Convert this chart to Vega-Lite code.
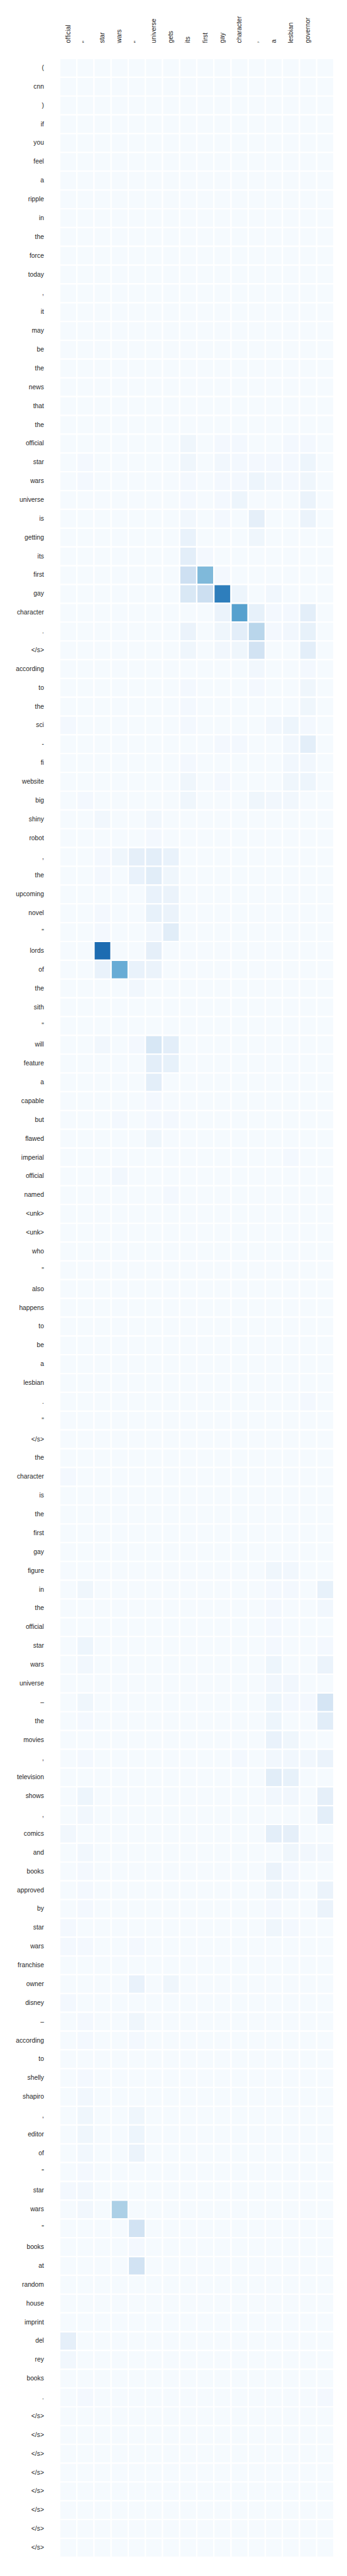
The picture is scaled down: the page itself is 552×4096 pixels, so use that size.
{
"$schema": "https://vega.github.io/schema/vega-lite/v6.json",
"width": 436, "height": 3973,
"autosize": "none",
"padding": {"left": 95, "top": 93, "right": 21, "bottom": 30},
"background": "white",
"config": {"view": {"stroke": null}, "axis": {"domain": false, "ticks": false, "grid": false, "labelFont": "Liberation Sans", "labelFontSize": 10.3, "labelColor": "#262626"}},
"datasets": {
"cols": [{"c":0,"ck":"00official"},{"c":1,"ck":"01\""},{"c":2,"ck":"02star"},{"c":3,"ck":"03wars"},{"c":4,"ck":"04\""},{"c":5,"ck":"05universe"},{"c":6,"ck":"06gets"},{"c":7,"ck":"07its"},{"c":8,"ck":"08first"},{"c":9,"ck":"09gay"},{"c":10,"ck":"10character"},{"c":11,"ck":"11,"},{"c":12,"ck":"12a"},{"c":13,"ck":"13lesbian"},{"c":14,"ck":"14governor"},{"c":15,"ck":"15"}],
"rows": [{"r":0,"k":"000("},{"r":1,"k":"001cnn"},{"r":2,"k":"002)"},{"r":3,"k":"003if"},{"r":4,"k":"004you"},{"r":5,"k":"005feel"},{"r":6,"k":"006a"},{"r":7,"k":"007ripple"},{"r":8,"k":"008in"},{"r":9,"k":"009the"},{"r":10,"k":"010force"},{"r":11,"k":"011today"},{"r":12,"k":"012,"},{"r":13,"k":"013it"},{"r":14,"k":"014may"},{"r":15,"k":"015be"},{"r":16,"k":"016the"},{"r":17,"k":"017news"},{"r":18,"k":"018that"},{"r":19,"k":"019the"},{"r":20,"k":"020official"},{"r":21,"k":"021star"},{"r":22,"k":"022wars"},{"r":23,"k":"023universe"},{"r":24,"k":"024is"},{"r":25,"k":"025getting"},{"r":26,"k":"026its"},{"r":27,"k":"027first"},{"r":28,"k":"028gay"},{"r":29,"k":"029character"},{"r":30,"k":"030."},{"r":31,"k":"031</s>"},{"r":32,"k":"032according"},{"r":33,"k":"033to"},{"r":34,"k":"034the"},{"r":35,"k":"035sci"},{"r":36,"k":"036-"},{"r":37,"k":"037fi"},{"r":38,"k":"038website"},{"r":39,"k":"039big"},{"r":40,"k":"040shiny"},{"r":41,"k":"041robot"},{"r":42,"k":"042,"},{"r":43,"k":"043the"},{"r":44,"k":"044upcoming"},{"r":45,"k":"045novel"},{"r":46,"k":"046\""},{"r":47,"k":"047lords"},{"r":48,"k":"048of"},{"r":49,"k":"049the"},{"r":50,"k":"050sith"},{"r":51,"k":"051\""},{"r":52,"k":"052will"},{"r":53,"k":"053feature"},{"r":54,"k":"054a"},{"r":55,"k":"055capable"},{"r":56,"k":"056but"},{"r":57,"k":"057flawed"},{"r":58,"k":"058imperial"},{"r":59,"k":"059official"},{"r":60,"k":"060named"},{"r":61,"k":"061<unk>"},{"r":62,"k":"062<unk>"},{"r":63,"k":"063who"},{"r":64,"k":"064\""},{"r":65,"k":"065also"},{"r":66,"k":"066happens"},{"r":67,"k":"067to"},{"r":68,"k":"068be"},{"r":69,"k":"069a"},{"r":70,"k":"070lesbian"},{"r":71,"k":"071."},{"r":72,"k":"072\""},{"r":73,"k":"073</s>"},{"r":74,"k":"074the"},{"r":75,"k":"075character"},{"r":76,"k":"076is"},{"r":77,"k":"077the"},{"r":78,"k":"078first"},{"r":79,"k":"079gay"},{"r":80,"k":"080figure"},{"r":81,"k":"081in"},{"r":82,"k":"082the"},{"r":83,"k":"083official"},{"r":84,"k":"084star"},{"r":85,"k":"085wars"},{"r":86,"k":"086universe"},{"r":87,"k":"087–"},{"r":88,"k":"088the"},{"r":89,"k":"089movies"},{"r":90,"k":"090,"},{"r":91,"k":"091television"},{"r":92,"k":"092shows"},{"r":93,"k":"093,"},{"r":94,"k":"094comics"},{"r":95,"k":"095and"},{"r":96,"k":"096books"},{"r":97,"k":"097approved"},{"r":98,"k":"098by"},{"r":99,"k":"099star"},{"r":100,"k":"100wars"},{"r":101,"k":"101franchise"},{"r":102,"k":"102owner"},{"r":103,"k":"103disney"},{"r":104,"k":"104–"},{"r":105,"k":"105according"},{"r":106,"k":"106to"},{"r":107,"k":"107shelly"},{"r":108,"k":"108shapiro"},{"r":109,"k":"109,"},{"r":110,"k":"110editor"},{"r":111,"k":"111of"},{"r":112,"k":"112\""},{"r":113,"k":"113star"},{"r":114,"k":"114wars"},{"r":115,"k":"115\""},{"r":116,"k":"116books"},{"r":117,"k":"117at"},{"r":118,"k":"118random"},{"r":119,"k":"119house"},{"r":120,"k":"120imprint"},{"r":121,"k":"121del"},{"r":122,"k":"122rey"},{"r":123,"k":"123books"},{"r":124,"k":"124."},{"r":125,"k":"125</s>"},{"r":126,"k":"126</s>"},{"r":127,"k":"127</s>"},{"r":128,"k":"128</s>"},{"r":129,"k":"129</s>"},{"r":130,"k":"130</s>"},{"r":131,"k":"131</s>"},{"r":132,"k":"132</s>"}],
"cells": [
{"r":0,"c":0,"v":1},{"r":0,"c":1,"v":1},{"r":0,"c":2,"v":1},{"r":0,"c":3,"v":1},{"r":0,"c":4,"v":1},{"r":0,"c":5,"v":1},{"r":0,"c":6,"v":1},{"r":0,"c":7,"v":1},{"r":0,"c":8,"v":1},{"r":0,"c":9,"v":1},{"r":0,"c":10,"v":1},{"r":0,"c":11,"v":1},{"r":0,"c":12,"v":1},{"r":0,"c":13,"v":1},{"r":0,"c":14,"v":1},{"r":0,"c":15,"v":1},
{"r":1,"c":0,"v":1},{"r":1,"c":1,"v":1},{"r":1,"c":2,"v":1},{"r":1,"c":3,"v":1},{"r":1,"c":4,"v":1},{"r":1,"c":5,"v":1},{"r":1,"c":6,"v":1},{"r":1,"c":7,"v":1},{"r":1,"c":8,"v":1},{"r":1,"c":9,"v":1},{"r":1,"c":10,"v":1},{"r":1,"c":11,"v":1},{"r":1,"c":12,"v":1},{"r":1,"c":13,"v":1},{"r":1,"c":14,"v":1},{"r":1,"c":15,"v":1},
{"r":2,"c":0,"v":1},{"r":2,"c":1,"v":1},{"r":2,"c":2,"v":1},{"r":2,"c":3,"v":1},{"r":2,"c":4,"v":1},{"r":2,"c":5,"v":1},{"r":2,"c":6,"v":1},{"r":2,"c":7,"v":1},{"r":2,"c":8,"v":1},{"r":2,"c":9,"v":1},{"r":2,"c":10,"v":1},{"r":2,"c":11,"v":1},{"r":2,"c":12,"v":1},{"r":2,"c":13,"v":1},{"r":2,"c":14,"v":1},{"r":2,"c":15,"v":1},
{"r":3,"c":0,"v":1},{"r":3,"c":1,"v":1},{"r":3,"c":2,"v":1},{"r":3,"c":3,"v":1},{"r":3,"c":4,"v":1},{"r":3,"c":5,"v":1},{"r":3,"c":6,"v":1},{"r":3,"c":7,"v":1},{"r":3,"c":8,"v":1},{"r":3,"c":9,"v":1},{"r":3,"c":10,"v":1},{"r":3,"c":11,"v":1},{"r":3,"c":12,"v":1},{"r":3,"c":13,"v":1},{"r":3,"c":14,"v":1},{"r":3,"c":15,"v":1},
{"r":4,"c":0,"v":1},{"r":4,"c":1,"v":1},{"r":4,"c":2,"v":1},{"r":4,"c":3,"v":1},{"r":4,"c":4,"v":1},{"r":4,"c":5,"v":1},{"r":4,"c":6,"v":1},{"r":4,"c":7,"v":1},{"r":4,"c":8,"v":1},{"r":4,"c":9,"v":1},{"r":4,"c":10,"v":1},{"r":4,"c":11,"v":1},{"r":4,"c":12,"v":1},{"r":4,"c":13,"v":1},{"r":4,"c":14,"v":1},{"r":4,"c":15,"v":1},
{"r":5,"c":0,"v":1},{"r":5,"c":1,"v":1},{"r":5,"c":2,"v":1},{"r":5,"c":3,"v":1},{"r":5,"c":4,"v":1},{"r":5,"c":5,"v":1},{"r":5,"c":6,"v":1},{"r":5,"c":7,"v":1},{"r":5,"c":8,"v":1},{"r":5,"c":9,"v":1},{"r":5,"c":10,"v":1},{"r":5,"c":11,"v":1},{"r":5,"c":12,"v":1},{"r":5,"c":13,"v":1},{"r":5,"c":14,"v":1},{"r":5,"c":15,"v":1},
{"r":6,"c":0,"v":1},{"r":6,"c":1,"v":1},{"r":6,"c":2,"v":1},{"r":6,"c":3,"v":1},{"r":6,"c":4,"v":1},{"r":6,"c":5,"v":1},{"r":6,"c":6,"v":1},{"r":6,"c":7,"v":1},{"r":6,"c":8,"v":1},{"r":6,"c":9,"v":1},{"r":6,"c":10,"v":1},{"r":6,"c":11,"v":1},{"r":6,"c":12,"v":1},{"r":6,"c":13,"v":1},{"r":6,"c":14,"v":1},{"r":6,"c":15,"v":1},
{"r":7,"c":0,"v":1},{"r":7,"c":1,"v":1},{"r":7,"c":2,"v":1},{"r":7,"c":3,"v":1},{"r":7,"c":4,"v":1},{"r":7,"c":5,"v":1},{"r":7,"c":6,"v":1},{"r":7,"c":7,"v":1},{"r":7,"c":8,"v":1},{"r":7,"c":9,"v":1},{"r":7,"c":10,"v":1},{"r":7,"c":11,"v":1},{"r":7,"c":12,"v":1},{"r":7,"c":13,"v":1},{"r":7,"c":14,"v":1},{"r":7,"c":15,"v":1},
{"r":8,"c":0,"v":1},{"r":8,"c":1,"v":1},{"r":8,"c":2,"v":1},{"r":8,"c":3,"v":1},{"r":8,"c":4,"v":1},{"r":8,"c":5,"v":1},{"r":8,"c":6,"v":1},{"r":8,"c":7,"v":1},{"r":8,"c":8,"v":1},{"r":8,"c":9,"v":1},{"r":8,"c":10,"v":1},{"r":8,"c":11,"v":1},{"r":8,"c":12,"v":1},{"r":8,"c":13,"v":1},{"r":8,"c":14,"v":1},{"r":8,"c":15,"v":1},
{"r":9,"c":0,"v":1},{"r":9,"c":1,"v":1},{"r":9,"c":2,"v":1},{"r":9,"c":3,"v":1},{"r":9,"c":4,"v":1},{"r":9,"c":5,"v":1},{"r":9,"c":6,"v":1},{"r":9,"c":7,"v":1},{"r":9,"c":8,"v":1},{"r":9,"c":9,"v":1},{"r":9,"c":10,"v":1},{"r":9,"c":11,"v":1},{"r":9,"c":12,"v":1},{"r":9,"c":13,"v":1},{"r":9,"c":14,"v":1},{"r":9,"c":15,"v":1},
{"r":10,"c":0,"v":1},{"r":10,"c":1,"v":1},{"r":10,"c":2,"v":1},{"r":10,"c":3,"v":1},{"r":10,"c":4,"v":1},{"r":10,"c":5,"v":1},{"r":10,"c":6,"v":1},{"r":10,"c":7,"v":1},{"r":10,"c":8,"v":1},{"r":10,"c":9,"v":1},{"r":10,"c":10,"v":1},{"r":10,"c":11,"v":1},{"r":10,"c":12,"v":1},{"r":10,"c":13,"v":1},{"r":10,"c":14,"v":1},{"r":10,"c":15,"v":1},
{"r":11,"c":0,"v":1},{"r":11,"c":1,"v":1},{"r":11,"c":2,"v":1},{"r":11,"c":3,"v":1},{"r":11,"c":4,"v":1},{"r":11,"c":5,"v":1},{"r":11,"c":6,"v":1},{"r":11,"c":7,"v":1},{"r":11,"c":8,"v":1},{"r":11,"c":9,"v":1},{"r":11,"c":10,"v":1},{"r":11,"c":11,"v":1},{"r":11,"c":12,"v":1},{"r":11,"c":13,"v":1},{"r":11,"c":14,"v":1},{"r":11,"c":15,"v":1},
{"r":12,"c":0,"v":1},{"r":12,"c":1,"v":1},{"r":12,"c":2,"v":1},{"r":12,"c":3,"v":1},{"r":12,"c":4,"v":1},{"r":12,"c":5,"v":1},{"r":12,"c":6,"v":1},{"r":12,"c":7,"v":1},{"r":12,"c":8,"v":1},{"r":12,"c":9,"v":1},{"r":12,"c":10,"v":1},{"r":12,"c":11,"v":1},{"r":12,"c":12,"v":1},{"r":12,"c":13,"v":1},{"r":12,"c":14,"v":1},{"r":12,"c":15,"v":1},
{"r":13,"c":0,"v":1},{"r":13,"c":1,"v":1},{"r":13,"c":2,"v":1},{"r":13,"c":3,"v":1},{"r":13,"c":4,"v":1},{"r":13,"c":5,"v":1},{"r":13,"c":6,"v":1},{"r":13,"c":7,"v":1},{"r":13,"c":8,"v":1},{"r":13,"c":9,"v":1},{"r":13,"c":10,"v":1},{"r":13,"c":11,"v":1},{"r":13,"c":12,"v":1},{"r":13,"c":13,"v":1},{"r":13,"c":14,"v":1},{"r":13,"c":15,"v":1},
{"r":14,"c":0,"v":1},{"r":14,"c":1,"v":1},{"r":14,"c":2,"v":1},{"r":14,"c":3,"v":1},{"r":14,"c":4,"v":1},{"r":14,"c":5,"v":1},{"r":14,"c":6,"v":1},{"r":14,"c":7,"v":1},{"r":14,"c":8,"v":1},{"r":14,"c":9,"v":1},{"r":14,"c":10,"v":1},{"r":14,"c":11,"v":1},{"r":14,"c":12,"v":1},{"r":14,"c":13,"v":1},{"r":14,"c":14,"v":1},{"r":14,"c":15,"v":1},
{"r":15,"c":0,"v":1},{"r":15,"c":1,"v":1},{"r":15,"c":2,"v":1},{"r":15,"c":3,"v":1},{"r":15,"c":4,"v":1},{"r":15,"c":5,"v":1},{"r":15,"c":6,"v":1},{"r":15,"c":7,"v":1},{"r":15,"c":8,"v":1},{"r":15,"c":9,"v":1},{"r":15,"c":10,"v":1},{"r":15,"c":11,"v":1},{"r":15,"c":12,"v":1},{"r":15,"c":13,"v":1},{"r":15,"c":14,"v":1},{"r":15,"c":15,"v":1},
{"r":16,"c":0,"v":1},{"r":16,"c":1,"v":1},{"r":16,"c":2,"v":1},{"r":16,"c":3,"v":1},{"r":16,"c":4,"v":1},{"r":16,"c":5,"v":1},{"r":16,"c":6,"v":1},{"r":16,"c":7,"v":1},{"r":16,"c":8,"v":1},{"r":16,"c":9,"v":1},{"r":16,"c":10,"v":1},{"r":16,"c":11,"v":1},{"r":16,"c":12,"v":1},{"r":16,"c":13,"v":1},{"r":16,"c":14,"v":1},{"r":16,"c":15,"v":1},
{"r":17,"c":0,"v":1},{"r":17,"c":1,"v":1},{"r":17,"c":2,"v":1},{"r":17,"c":3,"v":1},{"r":17,"c":4,"v":1},{"r":17,"c":5,"v":1},{"r":17,"c":6,"v":1},{"r":17,"c":7,"v":1},{"r":17,"c":8,"v":1},{"r":17,"c":9,"v":1},{"r":17,"c":10,"v":1},{"r":17,"c":11,"v":1},{"r":17,"c":12,"v":1},{"r":17,"c":13,"v":1},{"r":17,"c":14,"v":1},{"r":17,"c":15,"v":1},
{"r":18,"c":0,"v":1},{"r":18,"c":1,"v":1},{"r":18,"c":2,"v":1},{"r":18,"c":3,"v":1},{"r":18,"c":4,"v":1},{"r":18,"c":5,"v":1},{"r":18,"c":6,"v":1},{"r":18,"c":7,"v":1},{"r":18,"c":8,"v":1},{"r":18,"c":9,"v":1},{"r":18,"c":10,"v":1},{"r":18,"c":11,"v":1},{"r":18,"c":12,"v":1},{"r":18,"c":13,"v":1},{"r":18,"c":14,"v":1},{"r":18,"c":15,"v":1},
{"r":19,"c":0,"v":1},{"r":19,"c":1,"v":1},{"r":19,"c":2,"v":1},{"r":19,"c":3,"v":1},{"r":19,"c":4,"v":1},{"r":19,"c":5,"v":1},{"r":19,"c":6,"v":1},{"r":19,"c":7,"v":1},{"r":19,"c":8,"v":1},{"r":19,"c":9,"v":1},{"r":19,"c":10,"v":1},{"r":19,"c":11,"v":1},{"r":19,"c":12,"v":1},{"r":19,"c":13,"v":1},{"r":19,"c":14,"v":1},{"r":19,"c":15,"v":1},
{"r":20,"c":0,"v":1},{"r":20,"c":1,"v":1},{"r":20,"c":2,"v":1},{"r":20,"c":3,"v":1},{"r":20,"c":4,"v":1},{"r":20,"c":5,"v":1},{"r":20,"c":6,"v":1},{"r":20,"c":7,"v":4},{"r":20,"c":8,"v":1},{"r":20,"c":9,"v":2},{"r":20,"c":10,"v":2},{"r":20,"c":11,"v":1},{"r":20,"c":12,"v":1},{"r":20,"c":13,"v":2},{"r":20,"c":14,"v":2},{"r":20,"c":15,"v":1},
{"r":21,"c":0,"v":1},{"r":21,"c":1,"v":2},{"r":21,"c":2,"v":1},{"r":21,"c":3,"v":1},{"r":21,"c":4,"v":1},{"r":21,"c":5,"v":1},{"r":21,"c":6,"v":1},{"r":21,"c":7,"v":4},{"r":21,"c":8,"v":1},{"r":21,"c":9,"v":3},{"r":21,"c":10,"v":2},{"r":21,"c":11,"v":2},{"r":21,"c":12,"v":2},{"r":21,"c":13,"v":2},{"r":21,"c":14,"v":5},{"r":21,"c":15,"v":1},
{"r":22,"c":0,"v":1},{"r":22,"c":1,"v":2},{"r":22,"c":2,"v":1},{"r":22,"c":3,"v":1},{"r":22,"c":4,"v":1},{"r":22,"c":5,"v":1},{"r":22,"c":6,"v":1},{"r":22,"c":7,"v":2},{"r":22,"c":8,"v":1},{"r":22,"c":9,"v":2},{"r":22,"c":10,"v":2},{"r":22,"c":11,"v":5},{"r":22,"c":12,"v":3},{"r":22,"c":13,"v":2},{"r":22,"c":14,"v":4},{"r":22,"c":15,"v":1},
{"r":23,"c":0,"v":1},{"r":23,"c":1,"v":1},{"r":23,"c":2,"v":1},{"r":23,"c":3,"v":1},{"r":23,"c":4,"v":1},{"r":23,"c":5,"v":1},{"r":23,"c":6,"v":1},{"r":23,"c":7,"v":2},{"r":23,"c":8,"v":1},{"r":23,"c":9,"v":2},{"r":23,"c":10,"v":5},{"r":23,"c":11,"v":1},{"r":23,"c":12,"v":1},{"r":23,"c":13,"v":1},{"r":23,"c":14,"v":6},{"r":23,"c":15,"v":1},
{"r":24,"c":0,"v":1},{"r":24,"c":1,"v":1},{"r":24,"c":2,"v":1},{"r":24,"c":3,"v":1},{"r":24,"c":4,"v":1},{"r":24,"c":5,"v":1},{"r":24,"c":6,"v":1},{"r":24,"c":7,"v":3},{"r":24,"c":8,"v":1},{"r":24,"c":9,"v":2},{"r":24,"c":10,"v":1},{"r":24,"c":11,"v":9},{"r":24,"c":12,"v":1},{"r":24,"c":13,"v":1},{"r":24,"c":14,"v":6},{"r":24,"c":15,"v":1},
{"r":25,"c":0,"v":1},{"r":25,"c":1,"v":1},{"r":25,"c":2,"v":1},{"r":25,"c":3,"v":1},{"r":25,"c":4,"v":1},{"r":25,"c":5,"v":1},{"r":25,"c":6,"v":1},{"r":25,"c":7,"v":7},{"r":25,"c":8,"v":1},{"r":25,"c":9,"v":1},{"r":25,"c":10,"v":1},{"r":25,"c":11,"v":4},{"r":25,"c":12,"v":1},{"r":25,"c":13,"v":1},{"r":25,"c":14,"v":1},{"r":25,"c":15,"v":1},
{"r":26,"c":0,"v":1},{"r":26,"c":1,"v":1},{"r":26,"c":2,"v":1},{"r":26,"c":3,"v":1},{"r":26,"c":4,"v":1},{"r":26,"c":5,"v":1},{"r":26,"c":6,"v":1},{"r":26,"c":7,"v":10},{"r":26,"c":8,"v":2},{"r":26,"c":9,"v":1},{"r":26,"c":10,"v":1},{"r":26,"c":11,"v":1},{"r":26,"c":12,"v":1},{"r":26,"c":13,"v":1},{"r":26,"c":14,"v":1},{"r":26,"c":15,"v":1},
{"r":27,"c":0,"v":1},{"r":27,"c":1,"v":1},{"r":27,"c":2,"v":1},{"r":27,"c":3,"v":1},{"r":27,"c":4,"v":1},{"r":27,"c":5,"v":1},{"r":27,"c":6,"v":1},{"r":27,"c":7,"v":21},{"r":27,"c":8,"v":45},{"r":27,"c":9,"v":2},{"r":27,"c":10,"v":1},{"r":27,"c":11,"v":1},{"r":27,"c":12,"v":1},{"r":27,"c":13,"v":1},{"r":27,"c":14,"v":1},{"r":27,"c":15,"v":1},
{"r":28,"c":0,"v":1},{"r":28,"c":1,"v":1},{"r":28,"c":2,"v":1},{"r":28,"c":3,"v":1},{"r":28,"c":4,"v":1},{"r":28,"c":5,"v":1},{"r":28,"c":6,"v":1},{"r":28,"c":7,"v":15},{"r":28,"c":8,"v":22},{"r":28,"c":9,"v":70},{"r":28,"c":10,"v":5},{"r":28,"c":11,"v":1},{"r":28,"c":12,"v":3},{"r":28,"c":13,"v":1},{"r":28,"c":14,"v":1},{"r":28,"c":15,"v":1},
{"r":29,"c":0,"v":1},{"r":29,"c":1,"v":1},{"r":29,"c":2,"v":1},{"r":29,"c":3,"v":1},{"r":29,"c":4,"v":1},{"r":29,"c":5,"v":1},{"r":29,"c":6,"v":1},{"r":29,"c":7,"v":1},{"r":29,"c":8,"v":1},{"r":29,"c":9,"v":6},{"r":29,"c":10,"v":56},{"r":29,"c":11,"v":8},{"r":29,"c":12,"v":2},{"r":29,"c":13,"v":2},{"r":29,"c":14,"v":10},{"r":29,"c":15,"v":1},
{"r":30,"c":0,"v":1},{"r":30,"c":1,"v":1},{"r":30,"c":2,"v":1},{"r":30,"c":3,"v":1},{"r":30,"c":4,"v":1},{"r":30,"c":5,"v":1},{"r":30,"c":6,"v":1},{"r":30,"c":7,"v":6},{"r":30,"c":8,"v":1},{"r":30,"c":9,"v":4},{"r":30,"c":10,"v":10},{"r":30,"c":11,"v":29},{"r":30,"c":12,"v":2},{"r":30,"c":13,"v":3},{"r":30,"c":14,"v":8},{"r":30,"c":15,"v":1},
{"r":31,"c":0,"v":1},{"r":31,"c":1,"v":1},{"r":31,"c":2,"v":1},{"r":31,"c":3,"v":1},{"r":31,"c":4,"v":1},{"r":31,"c":5,"v":1},{"r":31,"c":6,"v":1},{"r":31,"c":7,"v":4},{"r":31,"c":8,"v":1},{"r":31,"c":9,"v":3},{"r":31,"c":10,"v":4},{"r":31,"c":11,"v":19},{"r":31,"c":12,"v":1},{"r":31,"c":13,"v":1},{"r":31,"c":14,"v":10},{"r":31,"c":15,"v":1},
{"r":32,"c":0,"v":1},{"r":32,"c":1,"v":1},{"r":32,"c":2,"v":1},{"r":32,"c":3,"v":1},{"r":32,"c":4,"v":1},{"r":32,"c":5,"v":1},{"r":32,"c":6,"v":1},{"r":32,"c":7,"v":1},{"r":32,"c":8,"v":1},{"r":32,"c":9,"v":1},{"r":32,"c":10,"v":1},{"r":32,"c":11,"v":3},{"r":32,"c":12,"v":1},{"r":32,"c":13,"v":1},{"r":32,"c":14,"v":2},{"r":32,"c":15,"v":1},
{"r":33,"c":0,"v":1},{"r":33,"c":1,"v":1},{"r":33,"c":2,"v":1},{"r":33,"c":3,"v":1},{"r":33,"c":4,"v":1},{"r":33,"c":5,"v":1},{"r":33,"c":6,"v":1},{"r":33,"c":7,"v":2},{"r":33,"c":8,"v":1},{"r":33,"c":9,"v":1},{"r":33,"c":10,"v":1},{"r":33,"c":11,"v":2},{"r":33,"c":12,"v":1},{"r":33,"c":13,"v":1},{"r":33,"c":14,"v":4},{"r":33,"c":15,"v":1},
{"r":34,"c":0,"v":1},{"r":34,"c":1,"v":1},{"r":34,"c":2,"v":1},{"r":34,"c":3,"v":1},{"r":34,"c":4,"v":1},{"r":34,"c":5,"v":1},{"r":34,"c":6,"v":1},{"r":34,"c":7,"v":2},{"r":34,"c":8,"v":1},{"r":34,"c":9,"v":1},{"r":34,"c":10,"v":1},{"r":34,"c":11,"v":1},{"r":34,"c":12,"v":1},{"r":34,"c":13,"v":1},{"r":34,"c":14,"v":4},{"r":34,"c":15,"v":1},
{"r":35,"c":0,"v":2},{"r":35,"c":1,"v":1},{"r":35,"c":2,"v":1},{"r":35,"c":3,"v":1},{"r":35,"c":4,"v":1},{"r":35,"c":5,"v":1},{"r":35,"c":6,"v":1},{"r":35,"c":7,"v":2},{"r":35,"c":8,"v":1},{"r":35,"c":9,"v":1},{"r":35,"c":10,"v":1},{"r":35,"c":11,"v":1},{"r":35,"c":12,"v":3},{"r":35,"c":13,"v":5},{"r":35,"c":14,"v":2},{"r":35,"c":15,"v":1},
{"r":36,"c":0,"v":1},{"r":36,"c":1,"v":1},{"r":36,"c":2,"v":1},{"r":36,"c":3,"v":1},{"r":36,"c":4,"v":1},{"r":36,"c":5,"v":1},{"r":36,"c":6,"v":1},{"r":36,"c":7,"v":1},{"r":36,"c":8,"v":1},{"r":36,"c":9,"v":2},{"r":36,"c":10,"v":2},{"r":36,"c":11,"v":1},{"r":36,"c":12,"v":1},{"r":36,"c":13,"v":3},{"r":36,"c":14,"v":10},{"r":36,"c":15,"v":1},
{"r":37,"c":0,"v":1},{"r":37,"c":1,"v":1},{"r":37,"c":2,"v":1},{"r":37,"c":3,"v":1},{"r":37,"c":4,"v":1},{"r":37,"c":5,"v":1},{"r":37,"c":6,"v":1},{"r":37,"c":7,"v":2},{"r":37,"c":8,"v":1},{"r":37,"c":9,"v":1},{"r":37,"c":10,"v":1},{"r":37,"c":11,"v":1},{"r":37,"c":12,"v":1},{"r":37,"c":13,"v":3},{"r":37,"c":14,"v":3},{"r":37,"c":15,"v":1},
{"r":38,"c":0,"v":1},{"r":38,"c":1,"v":1},{"r":38,"c":2,"v":1},{"r":38,"c":3,"v":1},{"r":38,"c":4,"v":1},{"r":38,"c":5,"v":1},{"r":38,"c":6,"v":1},{"r":38,"c":7,"v":4},{"r":38,"c":8,"v":1},{"r":38,"c":9,"v":2},{"r":38,"c":10,"v":1},{"r":38,"c":11,"v":1},{"r":38,"c":12,"v":1},{"r":38,"c":13,"v":4},{"r":38,"c":14,"v":5},{"r":38,"c":15,"v":1},
{"r":39,"c":0,"v":1},{"r":39,"c":1,"v":2},{"r":39,"c":2,"v":1},{"r":39,"c":3,"v":1},{"r":39,"c":4,"v":1},{"r":39,"c":5,"v":1},{"r":39,"c":6,"v":1},{"r":39,"c":7,"v":4},{"r":39,"c":8,"v":1},{"r":39,"c":9,"v":1},{"r":39,"c":10,"v":1},{"r":39,"c":11,"v":4},{"r":39,"c":12,"v":3},{"r":39,"c":13,"v":3},{"r":39,"c":14,"v":1},{"r":39,"c":15,"v":1},
{"r":40,"c":0,"v":1},{"r":40,"c":1,"v":1},{"r":40,"c":2,"v":3},{"r":40,"c":3,"v":1},{"r":40,"c":4,"v":1},{"r":40,"c":5,"v":3},{"r":40,"c":6,"v":1},{"r":40,"c":7,"v":1},{"r":40,"c":8,"v":1},{"r":40,"c":9,"v":1},{"r":40,"c":10,"v":1},{"r":40,"c":11,"v":1},{"r":40,"c":12,"v":1},{"r":40,"c":13,"v":1},{"r":40,"c":14,"v":1},{"r":40,"c":15,"v":1},
{"r":41,"c":0,"v":1},{"r":41,"c":1,"v":1},{"r":41,"c":2,"v":1},{"r":41,"c":3,"v":1},{"r":41,"c":4,"v":1},{"r":41,"c":5,"v":2},{"r":41,"c":6,"v":1},{"r":41,"c":7,"v":1},{"r":41,"c":8,"v":1},{"r":41,"c":9,"v":1},{"r":41,"c":10,"v":1},{"r":41,"c":11,"v":1},{"r":41,"c":12,"v":1},{"r":41,"c":13,"v":1},{"r":41,"c":14,"v":1},{"r":41,"c":15,"v":1},
{"r":42,"c":0,"v":1},{"r":42,"c":1,"v":1},{"r":42,"c":2,"v":2},{"r":42,"c":3,"v":4},{"r":42,"c":4,"v":9},{"r":42,"c":5,"v":10},{"r":42,"c":6,"v":7},{"r":42,"c":7,"v":1},{"r":42,"c":8,"v":1},{"r":42,"c":9,"v":1},{"r":42,"c":10,"v":1},{"r":42,"c":11,"v":1},{"r":42,"c":12,"v":1},{"r":42,"c":13,"v":1},{"r":42,"c":14,"v":1},{"r":42,"c":15,"v":1},
{"r":43,"c":0,"v":1},{"r":43,"c":1,"v":1},{"r":43,"c":2,"v":2},{"r":43,"c":3,"v":1},{"r":43,"c":4,"v":7},{"r":43,"c":5,"v":11},{"r":43,"c":6,"v":4},{"r":43,"c":7,"v":1},{"r":43,"c":8,"v":1},{"r":43,"c":9,"v":1},{"r":43,"c":10,"v":1},{"r":43,"c":11,"v":1},{"r":43,"c":12,"v":1},{"r":43,"c":13,"v":1},{"r":43,"c":14,"v":1},{"r":43,"c":15,"v":1},
{"r":44,"c":0,"v":1},{"r":44,"c":1,"v":1},{"r":44,"c":2,"v":1},{"r":44,"c":3,"v":1},{"r":44,"c":4,"v":1},{"r":44,"c":5,"v":7},{"r":44,"c":6,"v":6},{"r":44,"c":7,"v":1},{"r":44,"c":8,"v":1},{"r":44,"c":9,"v":1},{"r":44,"c":10,"v":1},{"r":44,"c":11,"v":1},{"r":44,"c":12,"v":1},{"r":44,"c":13,"v":1},{"r":44,"c":14,"v":1},{"r":44,"c":15,"v":1},
{"r":45,"c":0,"v":1},{"r":45,"c":1,"v":1},{"r":45,"c":2,"v":2},{"r":45,"c":3,"v":1},{"r":45,"c":4,"v":1},{"r":45,"c":5,"v":8},{"r":45,"c":6,"v":6},{"r":45,"c":7,"v":1},{"r":45,"c":8,"v":1},{"r":45,"c":9,"v":1},{"r":45,"c":10,"v":1},{"r":45,"c":11,"v":1},{"r":45,"c":12,"v":1},{"r":45,"c":13,"v":1},{"r":45,"c":14,"v":1},{"r":45,"c":15,"v":1},
{"r":46,"c":0,"v":1},{"r":46,"c":1,"v":1},{"r":46,"c":2,"v":2},{"r":46,"c":3,"v":1},{"r":46,"c":4,"v":1},{"r":46,"c":5,"v":3},{"r":46,"c":6,"v":11},{"r":46,"c":7,"v":1},{"r":46,"c":8,"v":1},{"r":46,"c":9,"v":1},{"r":46,"c":10,"v":1},{"r":46,"c":11,"v":1},{"r":46,"c":12,"v":1},{"r":46,"c":13,"v":1},{"r":46,"c":14,"v":1},{"r":46,"c":15,"v":1},
{"r":47,"c":0,"v":1},{"r":47,"c":1,"v":1},{"r":47,"c":2,"v":77},{"r":47,"c":3,"v":1},{"r":47,"c":4,"v":1},{"r":47,"c":5,"v":9},{"r":47,"c":6,"v":1},{"r":47,"c":7,"v":1},{"r":47,"c":8,"v":1},{"r":47,"c":9,"v":1},{"r":47,"c":10,"v":1},{"r":47,"c":11,"v":1},{"r":47,"c":12,"v":1},{"r":47,"c":13,"v":1},{"r":47,"c":14,"v":1},{"r":47,"c":15,"v":1},
{"r":48,"c":0,"v":1},{"r":48,"c":1,"v":1},{"r":48,"c":2,"v":7},{"r":48,"c":3,"v":51},{"r":48,"c":4,"v":7},{"r":48,"c":5,"v":6},{"r":48,"c":6,"v":1},{"r":48,"c":7,"v":1},{"r":48,"c":8,"v":1},{"r":48,"c":9,"v":1},{"r":48,"c":10,"v":1},{"r":48,"c":11,"v":1},{"r":48,"c":12,"v":1},{"r":48,"c":13,"v":1},{"r":48,"c":14,"v":1},{"r":48,"c":15,"v":1},
{"r":49,"c":0,"v":1},{"r":49,"c":1,"v":1},{"r":49,"c":2,"v":1},{"r":49,"c":3,"v":1},{"r":49,"c":4,"v":3},{"r":49,"c":5,"v":1},{"r":49,"c":6,"v":1},{"r":49,"c":7,"v":1},{"r":49,"c":8,"v":1},{"r":49,"c":9,"v":1},{"r":49,"c":10,"v":1},{"r":49,"c":11,"v":1},{"r":49,"c":12,"v":1},{"r":49,"c":13,"v":1},{"r":49,"c":14,"v":1},{"r":49,"c":15,"v":1},
{"r":50,"c":0,"v":1},{"r":50,"c":1,"v":1},{"r":50,"c":2,"v":1},{"r":50,"c":3,"v":1},{"r":50,"c":4,"v":1},{"r":50,"c":5,"v":1},{"r":50,"c":6,"v":1},{"r":50,"c":7,"v":1},{"r":50,"c":8,"v":1},{"r":50,"c":9,"v":1},{"r":50,"c":10,"v":1},{"r":50,"c":11,"v":1},{"r":50,"c":12,"v":1},{"r":50,"c":13,"v":1},{"r":50,"c":14,"v":1},{"r":50,"c":15,"v":1},
{"r":51,"c":0,"v":1},{"r":51,"c":1,"v":1},{"r":51,"c":2,"v":1},{"r":51,"c":3,"v":1},{"r":51,"c":4,"v":1},{"r":51,"c":5,"v":1},{"r":51,"c":6,"v":1},{"r":51,"c":7,"v":1},{"r":51,"c":8,"v":1},{"r":51,"c":9,"v":1},{"r":51,"c":10,"v":1},{"r":51,"c":11,"v":1},{"r":51,"c":12,"v":1},{"r":51,"c":13,"v":1},{"r":51,"c":14,"v":1},{"r":51,"c":15,"v":1},
{"r":52,"c":0,"v":1},{"r":52,"c":1,"v":1},{"r":52,"c":2,"v":3},{"r":52,"c":3,"v":1},{"r":52,"c":4,"v":2},{"r":52,"c":5,"v":16},{"r":52,"c":6,"v":10},{"r":52,"c":7,"v":1},{"r":52,"c":8,"v":1},{"r":52,"c":9,"v":1},{"r":52,"c":10,"v":1},{"r":52,"c":11,"v":1},{"r":52,"c":12,"v":1},{"r":52,"c":13,"v":1},{"r":52,"c":14,"v":1},{"r":52,"c":15,"v":1},
{"r":53,"c":0,"v":1},{"r":53,"c":1,"v":1},{"r":53,"c":2,"v":1},{"r":53,"c":3,"v":1},{"r":53,"c":4,"v":1},{"r":53,"c":5,"v":10},{"r":53,"c":6,"v":8},{"r":53,"c":7,"v":1},{"r":53,"c":8,"v":1},{"r":53,"c":9,"v":1},{"r":53,"c":10,"v":1},{"r":53,"c":11,"v":1},{"r":53,"c":12,"v":1},{"r":53,"c":13,"v":1},{"r":53,"c":14,"v":1},{"r":53,"c":15,"v":1},
{"r":54,"c":0,"v":1},{"r":54,"c":1,"v":1},{"r":54,"c":2,"v":1},{"r":54,"c":3,"v":1},{"r":54,"c":4,"v":1},{"r":54,"c":5,"v":10},{"r":54,"c":6,"v":1},{"r":54,"c":7,"v":1},{"r":54,"c":8,"v":1},{"r":54,"c":9,"v":1},{"r":54,"c":10,"v":1},{"r":54,"c":11,"v":1},{"r":54,"c":12,"v":1},{"r":54,"c":13,"v":1},{"r":54,"c":14,"v":1},{"r":54,"c":15,"v":1},
{"r":55,"c":0,"v":1},{"r":55,"c":1,"v":1},{"r":55,"c":2,"v":1},{"r":55,"c":3,"v":1},{"r":55,"c":4,"v":1},{"r":55,"c":5,"v":2},{"r":55,"c":6,"v":1},{"r":55,"c":7,"v":1},{"r":55,"c":8,"v":1},{"r":55,"c":9,"v":1},{"r":55,"c":10,"v":1},{"r":55,"c":11,"v":1},{"r":55,"c":12,"v":1},{"r":55,"c":13,"v":1},{"r":55,"c":14,"v":1},{"r":55,"c":15,"v":1},
{"r":56,"c":0,"v":1},{"r":56,"c":1,"v":1},{"r":56,"c":2,"v":1},{"r":56,"c":3,"v":2},{"r":56,"c":4,"v":1},{"r":56,"c":5,"v":2},{"r":56,"c":6,"v":2},{"r":56,"c":7,"v":1},{"r":56,"c":8,"v":1},{"r":56,"c":9,"v":1},{"r":56,"c":10,"v":1},{"r":56,"c":11,"v":1},{"r":56,"c":12,"v":1},{"r":56,"c":13,"v":1},{"r":56,"c":14,"v":1},{"r":56,"c":15,"v":1},
{"r":57,"c":0,"v":1},{"r":57,"c":1,"v":1},{"r":57,"c":2,"v":1},{"r":57,"c":3,"v":1},{"r":57,"c":4,"v":1},{"r":57,"c":5,"v":4},{"r":57,"c":6,"v":1},{"r":57,"c":7,"v":1},{"r":57,"c":8,"v":1},{"r":57,"c":9,"v":1},{"r":57,"c":10,"v":1},{"r":57,"c":11,"v":1},{"r":57,"c":12,"v":1},{"r":57,"c":13,"v":1},{"r":57,"c":14,"v":1},{"r":57,"c":15,"v":1},
{"r":58,"c":0,"v":1},{"r":58,"c":1,"v":1},{"r":58,"c":2,"v":1},{"r":58,"c":3,"v":1},{"r":58,"c":4,"v":1},{"r":58,"c":5,"v":1},{"r":58,"c":6,"v":1},{"r":58,"c":7,"v":1},{"r":58,"c":8,"v":1},{"r":58,"c":9,"v":1},{"r":58,"c":10,"v":1},{"r":58,"c":11,"v":1},{"r":58,"c":12,"v":1},{"r":58,"c":13,"v":2},{"r":58,"c":14,"v":1},{"r":58,"c":15,"v":1},
{"r":59,"c":0,"v":1},{"r":59,"c":1,"v":1},{"r":59,"c":2,"v":1},{"r":59,"c":3,"v":3},{"r":59,"c":4,"v":1},{"r":59,"c":5,"v":1},{"r":59,"c":6,"v":1},{"r":59,"c":7,"v":1},{"r":59,"c":8,"v":1},{"r":59,"c":9,"v":1},{"r":59,"c":10,"v":1},{"r":59,"c":11,"v":1},{"r":59,"c":12,"v":1},{"r":59,"c":13,"v":1},{"r":59,"c":14,"v":1},{"r":59,"c":15,"v":1},
{"r":60,"c":0,"v":1},{"r":60,"c":1,"v":1},{"r":60,"c":2,"v":1},{"r":60,"c":3,"v":1},{"r":60,"c":4,"v":1},{"r":60,"c":5,"v":1},{"r":60,"c":6,"v":2},{"r":60,"c":7,"v":1},{"r":60,"c":8,"v":1},{"r":60,"c":9,"v":1},{"r":60,"c":10,"v":1},{"r":60,"c":11,"v":1},{"r":60,"c":12,"v":1},{"r":60,"c":13,"v":1},{"r":60,"c":14,"v":1},{"r":60,"c":15,"v":1},
{"r":61,"c":0,"v":1},{"r":61,"c":1,"v":1},{"r":61,"c":2,"v":1},{"r":61,"c":3,"v":1},{"r":61,"c":4,"v":1},{"r":61,"c":5,"v":1},{"r":61,"c":6,"v":1},{"r":61,"c":7,"v":1},{"r":61,"c":8,"v":1},{"r":61,"c":9,"v":1},{"r":61,"c":10,"v":1},{"r":61,"c":11,"v":1},{"r":61,"c":12,"v":1},{"r":61,"c":13,"v":1},{"r":61,"c":14,"v":1},{"r":61,"c":15,"v":1},
{"r":62,"c":0,"v":1},{"r":62,"c":1,"v":1},{"r":62,"c":2,"v":1},{"r":62,"c":3,"v":1},{"r":62,"c":4,"v":1},{"r":62,"c":5,"v":1},{"r":62,"c":6,"v":1},{"r":62,"c":7,"v":1},{"r":62,"c":8,"v":1},{"r":62,"c":9,"v":1},{"r":62,"c":10,"v":1},{"r":62,"c":11,"v":1},{"r":62,"c":12,"v":1},{"r":62,"c":13,"v":1},{"r":62,"c":14,"v":1},{"r":62,"c":15,"v":1},
{"r":63,"c":0,"v":1},{"r":63,"c":1,"v":1},{"r":63,"c":2,"v":1},{"r":63,"c":3,"v":1},{"r":63,"c":4,"v":1},{"r":63,"c":5,"v":1},{"r":63,"c":6,"v":1},{"r":63,"c":7,"v":1},{"r":63,"c":8,"v":1},{"r":63,"c":9,"v":1},{"r":63,"c":10,"v":1},{"r":63,"c":11,"v":1},{"r":63,"c":12,"v":1},{"r":63,"c":13,"v":1},{"r":63,"c":14,"v":1},{"r":63,"c":15,"v":1},
{"r":64,"c":0,"v":1},{"r":64,"c":1,"v":1},{"r":64,"c":2,"v":1},{"r":64,"c":3,"v":1},{"r":64,"c":4,"v":1},{"r":64,"c":5,"v":1},{"r":64,"c":6,"v":1},{"r":64,"c":7,"v":1},{"r":64,"c":8,"v":1},{"r":64,"c":9,"v":1},{"r":64,"c":10,"v":1},{"r":64,"c":11,"v":1},{"r":64,"c":12,"v":1},{"r":64,"c":13,"v":1},{"r":64,"c":14,"v":1},{"r":64,"c":15,"v":1},
{"r":65,"c":0,"v":1},{"r":65,"c":1,"v":1},{"r":65,"c":2,"v":1},{"r":65,"c":3,"v":1},{"r":65,"c":4,"v":1},{"r":65,"c":5,"v":1},{"r":65,"c":6,"v":1},{"r":65,"c":7,"v":1},{"r":65,"c":8,"v":1},{"r":65,"c":9,"v":1},{"r":65,"c":10,"v":1},{"r":65,"c":11,"v":1},{"r":65,"c":12,"v":1},{"r":65,"c":13,"v":1},{"r":65,"c":14,"v":1},{"r":65,"c":15,"v":1},
{"r":66,"c":0,"v":1},{"r":66,"c":1,"v":1},{"r":66,"c":2,"v":1},{"r":66,"c":3,"v":1},{"r":66,"c":4,"v":1},{"r":66,"c":5,"v":1},{"r":66,"c":6,"v":1},{"r":66,"c":7,"v":1},{"r":66,"c":8,"v":1},{"r":66,"c":9,"v":1},{"r":66,"c":10,"v":1},{"r":66,"c":11,"v":1},{"r":66,"c":12,"v":1},{"r":66,"c":13,"v":1},{"r":66,"c":14,"v":1},{"r":66,"c":15,"v":1},
{"r":67,"c":0,"v":1},{"r":67,"c":1,"v":1},{"r":67,"c":2,"v":1},{"r":67,"c":3,"v":1},{"r":67,"c":4,"v":1},{"r":67,"c":5,"v":1},{"r":67,"c":6,"v":1},{"r":67,"c":7,"v":1},{"r":67,"c":8,"v":1},{"r":67,"c":9,"v":1},{"r":67,"c":10,"v":1},{"r":67,"c":11,"v":1},{"r":67,"c":12,"v":1},{"r":67,"c":13,"v":1},{"r":67,"c":14,"v":1},{"r":67,"c":15,"v":1},
{"r":68,"c":0,"v":1},{"r":68,"c":1,"v":1},{"r":68,"c":2,"v":1},{"r":68,"c":3,"v":1},{"r":68,"c":4,"v":1},{"r":68,"c":5,"v":1},{"r":68,"c":6,"v":1},{"r":68,"c":7,"v":1},{"r":68,"c":8,"v":1},{"r":68,"c":9,"v":1},{"r":68,"c":10,"v":1},{"r":68,"c":11,"v":1},{"r":68,"c":12,"v":1},{"r":68,"c":13,"v":1},{"r":68,"c":14,"v":1},{"r":68,"c":15,"v":1},
{"r":69,"c":0,"v":1},{"r":69,"c":1,"v":1},{"r":69,"c":2,"v":1},{"r":69,"c":3,"v":1},{"r":69,"c":4,"v":1},{"r":69,"c":5,"v":1},{"r":69,"c":6,"v":1},{"r":69,"c":7,"v":1},{"r":69,"c":8,"v":1},{"r":69,"c":9,"v":1},{"r":69,"c":10,"v":1},{"r":69,"c":11,"v":1},{"r":69,"c":12,"v":1},{"r":69,"c":13,"v":1},{"r":69,"c":14,"v":1},{"r":69,"c":15,"v":1},
{"r":70,"c":0,"v":1},{"r":70,"c":1,"v":1},{"r":70,"c":2,"v":1},{"r":70,"c":3,"v":1},{"r":70,"c":4,"v":1},{"r":70,"c":5,"v":1},{"r":70,"c":6,"v":1},{"r":70,"c":7,"v":1},{"r":70,"c":8,"v":1},{"r":70,"c":9,"v":1},{"r":70,"c":10,"v":1},{"r":70,"c":11,"v":1},{"r":70,"c":12,"v":1},{"r":70,"c":13,"v":1},{"r":70,"c":14,"v":1},{"r":70,"c":15,"v":1},
{"r":71,"c":0,"v":1},{"r":71,"c":1,"v":1},{"r":71,"c":2,"v":1},{"r":71,"c":3,"v":1},{"r":71,"c":4,"v":1},{"r":71,"c":5,"v":1},{"r":71,"c":6,"v":1},{"r":71,"c":7,"v":1},{"r":71,"c":8,"v":1},{"r":71,"c":9,"v":1},{"r":71,"c":10,"v":1},{"r":71,"c":11,"v":1},{"r":71,"c":12,"v":1},{"r":71,"c":13,"v":1},{"r":71,"c":14,"v":2},{"r":71,"c":15,"v":1},
{"r":72,"c":0,"v":1},{"r":72,"c":1,"v":1},{"r":72,"c":2,"v":1},{"r":72,"c":3,"v":1},{"r":72,"c":4,"v":1},{"r":72,"c":5,"v":1},{"r":72,"c":6,"v":1},{"r":72,"c":7,"v":1},{"r":72,"c":8,"v":1},{"r":72,"c":9,"v":1},{"r":72,"c":10,"v":1},{"r":72,"c":11,"v":1},{"r":72,"c":12,"v":1},{"r":72,"c":13,"v":1},{"r":72,"c":14,"v":1},{"r":72,"c":15,"v":1},
{"r":73,"c":0,"v":1},{"r":73,"c":1,"v":1},{"r":73,"c":2,"v":1},{"r":73,"c":3,"v":1},{"r":73,"c":4,"v":1},{"r":73,"c":5,"v":1},{"r":73,"c":6,"v":1},{"r":73,"c":7,"v":1},{"r":73,"c":8,"v":1},{"r":73,"c":9,"v":1},{"r":73,"c":10,"v":1},{"r":73,"c":11,"v":1},{"r":73,"c":12,"v":1},{"r":73,"c":13,"v":1},{"r":73,"c":14,"v":1},{"r":73,"c":15,"v":1},
{"r":74,"c":0,"v":1},{"r":74,"c":1,"v":1},{"r":74,"c":2,"v":1},{"r":74,"c":3,"v":1},{"r":74,"c":4,"v":1},{"r":74,"c":5,"v":1},{"r":74,"c":6,"v":1},{"r":74,"c":7,"v":1},{"r":74,"c":8,"v":1},{"r":74,"c":9,"v":1},{"r":74,"c":10,"v":1},{"r":74,"c":11,"v":1},{"r":74,"c":12,"v":1},{"r":74,"c":13,"v":1},{"r":74,"c":14,"v":1},{"r":74,"c":15,"v":1},
{"r":75,"c":0,"v":2},{"r":75,"c":1,"v":1},{"r":75,"c":2,"v":1},{"r":75,"c":3,"v":1},{"r":75,"c":4,"v":1},{"r":75,"c":5,"v":1},{"r":75,"c":6,"v":1},{"r":75,"c":7,"v":1},{"r":75,"c":8,"v":1},{"r":75,"c":9,"v":1},{"r":75,"c":10,"v":1},{"r":75,"c":11,"v":1},{"r":75,"c":12,"v":1},{"r":75,"c":13,"v":1},{"r":75,"c":14,"v":1},{"r":75,"c":15,"v":1},
{"r":76,"c":0,"v":1},{"r":76,"c":1,"v":1},{"r":76,"c":2,"v":1},{"r":76,"c":3,"v":1},{"r":76,"c":4,"v":1},{"r":76,"c":5,"v":1},{"r":76,"c":6,"v":1},{"r":76,"c":7,"v":1},{"r":76,"c":8,"v":1},{"r":76,"c":9,"v":1},{"r":76,"c":10,"v":1},{"r":76,"c":11,"v":1},{"r":76,"c":12,"v":1},{"r":76,"c":13,"v":1},{"r":76,"c":14,"v":1},{"r":76,"c":15,"v":1},
{"r":77,"c":0,"v":1},{"r":77,"c":1,"v":1},{"r":77,"c":2,"v":1},{"r":77,"c":3,"v":1},{"r":77,"c":4,"v":1},{"r":77,"c":5,"v":1},{"r":77,"c":6,"v":1},{"r":77,"c":7,"v":1},{"r":77,"c":8,"v":1},{"r":77,"c":9,"v":1},{"r":77,"c":10,"v":1},{"r":77,"c":11,"v":1},{"r":77,"c":12,"v":1},{"r":77,"c":13,"v":1},{"r":77,"c":14,"v":1},{"r":77,"c":15,"v":1},
{"r":78,"c":0,"v":1},{"r":78,"c":1,"v":1},{"r":78,"c":2,"v":1},{"r":78,"c":3,"v":1},{"r":78,"c":4,"v":1},{"r":78,"c":5,"v":1},{"r":78,"c":6,"v":1},{"r":78,"c":7,"v":1},{"r":78,"c":8,"v":1},{"r":78,"c":9,"v":1},{"r":78,"c":10,"v":1},{"r":78,"c":11,"v":1},{"r":78,"c":12,"v":1},{"r":78,"c":13,"v":1},{"r":78,"c":14,"v":1},{"r":78,"c":15,"v":1},
{"r":79,"c":0,"v":1},{"r":79,"c":1,"v":1},{"r":79,"c":2,"v":1},{"r":79,"c":3,"v":1},{"r":79,"c":4,"v":1},{"r":79,"c":5,"v":1},{"r":79,"c":6,"v":1},{"r":79,"c":7,"v":1},{"r":79,"c":8,"v":1},{"r":79,"c":9,"v":1},{"r":79,"c":10,"v":1},{"r":79,"c":11,"v":1},{"r":79,"c":12,"v":1},{"r":79,"c":13,"v":1},{"r":79,"c":14,"v":1},{"r":79,"c":15,"v":1},
{"r":80,"c":0,"v":1},{"r":80,"c":1,"v":1},{"r":80,"c":2,"v":1},{"r":80,"c":3,"v":1},{"r":80,"c":4,"v":1},{"r":80,"c":5,"v":1},{"r":80,"c":6,"v":1},{"r":80,"c":7,"v":1},{"r":80,"c":8,"v":1},{"r":80,"c":9,"v":1},{"r":80,"c":10,"v":1},{"r":80,"c":11,"v":1},{"r":80,"c":12,"v":4},{"r":80,"c":13,"v":3},{"r":80,"c":14,"v":1},{"r":80,"c":15,"v":1},
{"r":81,"c":0,"v":1},{"r":81,"c":1,"v":4},{"r":81,"c":2,"v":1},{"r":81,"c":3,"v":1},{"r":81,"c":4,"v":1},{"r":81,"c":5,"v":1},{"r":81,"c":6,"v":1},{"r":81,"c":7,"v":1},{"r":81,"c":8,"v":1},{"r":81,"c":9,"v":1},{"r":81,"c":10,"v":1},{"r":81,"c":11,"v":1},{"r":81,"c":12,"v":2},{"r":81,"c":13,"v":2},{"r":81,"c":14,"v":1},{"r":81,"c":15,"v":8},
{"r":82,"c":0,"v":1},{"r":82,"c":1,"v":1},{"r":82,"c":2,"v":1},{"r":82,"c":3,"v":1},{"r":82,"c":4,"v":1},{"r":82,"c":5,"v":1},{"r":82,"c":6,"v":1},{"r":82,"c":7,"v":1},{"r":82,"c":8,"v":1},{"r":82,"c":9,"v":1},{"r":82,"c":10,"v":1},{"r":82,"c":11,"v":1},{"r":82,"c":12,"v":2},{"r":82,"c":13,"v":1},{"r":82,"c":14,"v":1},{"r":82,"c":15,"v":3},
{"r":83,"c":0,"v":1},{"r":83,"c":1,"v":1},{"r":83,"c":2,"v":1},{"r":83,"c":3,"v":1},{"r":83,"c":4,"v":1},{"r":83,"c":5,"v":1},{"r":83,"c":6,"v":1},{"r":83,"c":7,"v":1},{"r":83,"c":8,"v":1},{"r":83,"c":9,"v":1},{"r":83,"c":10,"v":1},{"r":83,"c":11,"v":1},{"r":83,"c":12,"v":2},{"r":83,"c":13,"v":1},{"r":83,"c":14,"v":1},{"r":83,"c":15,"v":1},
{"r":84,"c":0,"v":1},{"r":84,"c":1,"v":5},{"r":84,"c":2,"v":1},{"r":84,"c":3,"v":1},{"r":84,"c":4,"v":1},{"r":84,"c":5,"v":1},{"r":84,"c":6,"v":1},{"r":84,"c":7,"v":1},{"r":84,"c":8,"v":1},{"r":84,"c":9,"v":1},{"r":84,"c":10,"v":1},{"r":84,"c":11,"v":1},{"r":84,"c":12,"v":2},{"r":84,"c":13,"v":1},{"r":84,"c":14,"v":1},{"r":84,"c":15,"v":2},
{"r":85,"c":0,"v":1},{"r":85,"c":1,"v":3},{"r":85,"c":2,"v":1},{"r":85,"c":3,"v":1},{"r":85,"c":4,"v":1},{"r":85,"c":5,"v":1},{"r":85,"c":6,"v":1},{"r":85,"c":7,"v":1},{"r":85,"c":8,"v":1},{"r":85,"c":9,"v":1},{"r":85,"c":10,"v":1},{"r":85,"c":11,"v":1},{"r":85,"c":12,"v":5},{"r":85,"c":13,"v":1},{"r":85,"c":14,"v":1},{"r":85,"c":15,"v":6},
{"r":86,"c":0,"v":1},{"r":86,"c":1,"v":1},{"r":86,"c":2,"v":1},{"r":86,"c":3,"v":1},{"r":86,"c":4,"v":1},{"r":86,"c":5,"v":1},{"r":86,"c":6,"v":1},{"r":86,"c":7,"v":1},{"r":86,"c":8,"v":1},{"r":86,"c":9,"v":1},{"r":86,"c":10,"v":1},{"r":86,"c":11,"v":1},{"r":86,"c":12,"v":3},{"r":86,"c":13,"v":3},{"r":86,"c":14,"v":1},{"r":86,"c":15,"v":1},
{"r":87,"c":0,"v":1},{"r":87,"c":1,"v":4},{"r":87,"c":2,"v":1},{"r":87,"c":3,"v":1},{"r":87,"c":4,"v":1},{"r":87,"c":5,"v":1},{"r":87,"c":6,"v":1},{"r":87,"c":7,"v":1},{"r":87,"c":8,"v":1},{"r":87,"c":9,"v":1},{"r":87,"c":10,"v":1},{"r":87,"c":11,"v":1},{"r":87,"c":12,"v":5},{"r":87,"c":13,"v":2},{"r":87,"c":14,"v":2},{"r":87,"c":15,"v":17},
{"r":88,"c":0,"v":1},{"r":88,"c":1,"v":2},{"r":88,"c":2,"v":1},{"r":88,"c":3,"v":1},{"r":88,"c":4,"v":1},{"r":88,"c":5,"v":1},{"r":88,"c":6,"v":1},{"r":88,"c":7,"v":1},{"r":88,"c":8,"v":1},{"r":88,"c":9,"v":1},{"r":88,"c":10,"v":1},{"r":88,"c":11,"v":1},{"r":88,"c":12,"v":5},{"r":88,"c":13,"v":1},{"r":88,"c":14,"v":1},{"r":88,"c":15,"v":11},
{"r":89,"c":0,"v":1},{"r":89,"c":1,"v":1},{"r":89,"c":2,"v":1},{"r":89,"c":3,"v":1},{"r":89,"c":4,"v":1},{"r":89,"c":5,"v":1},{"r":89,"c":6,"v":1},{"r":89,"c":7,"v":1},{"r":89,"c":8,"v":1},{"r":89,"c":9,"v":1},{"r":89,"c":10,"v":1},{"r":89,"c":11,"v":1},{"r":89,"c":12,"v":7},{"r":89,"c":13,"v":4},{"r":89,"c":14,"v":1},{"r":89,"c":15,"v":1},
{"r":90,"c":0,"v":1},{"r":90,"c":1,"v":2},{"r":90,"c":2,"v":1},{"r":90,"c":3,"v":1},{"r":90,"c":4,"v":1},{"r":90,"c":5,"v":1},{"r":90,"c":6,"v":1},{"r":90,"c":7,"v":1},{"r":90,"c":8,"v":1},{"r":90,"c":9,"v":1},{"r":90,"c":10,"v":2},{"r":90,"c":11,"v":1},{"r":90,"c":12,"v":3},{"r":90,"c":13,"v":3},{"r":90,"c":14,"v":3},{"r":90,"c":15,"v":6},
{"r":91,"c":0,"v":1},{"r":91,"c":1,"v":1},{"r":91,"c":2,"v":1},{"r":91,"c":3,"v":1},{"r":91,"c":4,"v":1},{"r":91,"c":5,"v":1},{"r":91,"c":6,"v":1},{"r":91,"c":7,"v":1},{"r":91,"c":8,"v":1},{"r":91,"c":9,"v":1},{"r":91,"c":10,"v":1},{"r":91,"c":11,"v":1},{"r":91,"c":12,"v":11},{"r":91,"c":13,"v":8},{"r":91,"c":14,"v":1},{"r":91,"c":15,"v":1},
{"r":92,"c":0,"v":1},{"r":92,"c":1,"v":5},{"r":92,"c":2,"v":1},{"r":92,"c":3,"v":1},{"r":92,"c":4,"v":1},{"r":92,"c":5,"v":1},{"r":92,"c":6,"v":1},{"r":92,"c":7,"v":1},{"r":92,"c":8,"v":1},{"r":92,"c":9,"v":1},{"r":92,"c":10,"v":1},{"r":92,"c":11,"v":1},{"r":92,"c":12,"v":3},{"r":92,"c":13,"v":3},{"r":92,"c":14,"v":1},{"r":92,"c":15,"v":9},
{"r":93,"c":0,"v":1},{"r":93,"c":1,"v":3},{"r":93,"c":2,"v":1},{"r":93,"c":3,"v":1},{"r":93,"c":4,"v":1},{"r":93,"c":5,"v":1},{"r":93,"c":6,"v":1},{"r":93,"c":7,"v":1},{"r":93,"c":8,"v":1},{"r":93,"c":9,"v":1},{"r":93,"c":10,"v":1},{"r":93,"c":11,"v":1},{"r":93,"c":12,"v":1},{"r":93,"c":13,"v":1},{"r":93,"c":14,"v":1},{"r":93,"c":15,"v":10},
{"r":94,"c":0,"v":3},{"r":94,"c":1,"v":1},{"r":94,"c":2,"v":1},{"r":94,"c":3,"v":1},{"r":94,"c":4,"v":1},{"r":94,"c":5,"v":1},{"r":94,"c":6,"v":1},{"r":94,"c":7,"v":1},{"r":94,"c":8,"v":1},{"r":94,"c":9,"v":1},{"r":94,"c":10,"v":1},{"r":94,"c":11,"v":1},{"r":94,"c":12,"v":10},{"r":94,"c":13,"v":9},{"r":94,"c":14,"v":1},{"r":94,"c":15,"v":1},
{"r":95,"c":0,"v":1},{"r":95,"c":1,"v":3},{"r":95,"c":2,"v":1},{"r":95,"c":3,"v":1},{"r":95,"c":4,"v":1},{"r":95,"c":5,"v":1},{"r":95,"c":6,"v":1},{"r":95,"c":7,"v":1},{"r":95,"c":8,"v":1},{"r":95,"c":9,"v":1},{"r":95,"c":10,"v":1},{"r":95,"c":11,"v":1},{"r":95,"c":12,"v":1},{"r":95,"c":13,"v":4},{"r":95,"c":14,"v":3},{"r":95,"c":15,"v":3},
{"r":96,"c":0,"v":1},{"r":96,"c":1,"v":2},{"r":96,"c":2,"v":1},{"r":96,"c":3,"v":1},{"r":96,"c":4,"v":1},{"r":96,"c":5,"v":1},{"r":96,"c":6,"v":1},{"r":96,"c":7,"v":1},{"r":96,"c":8,"v":1},{"r":96,"c":9,"v":1},{"r":96,"c":10,"v":1},{"r":96,"c":11,"v":1},{"r":96,"c":12,"v":6},{"r":96,"c":13,"v":2},{"r":96,"c":14,"v":1},{"r":96,"c":15,"v":1},
{"r":97,"c":0,"v":1},{"r":97,"c":1,"v":2},{"r":97,"c":2,"v":1},{"r":97,"c":3,"v":1},{"r":97,"c":4,"v":1},{"r":97,"c":5,"v":1},{"r":97,"c":6,"v":1},{"r":97,"c":7,"v":1},{"r":97,"c":8,"v":1},{"r":97,"c":9,"v":1},{"r":97,"c":10,"v":1},{"r":97,"c":11,"v":1},{"r":97,"c":12,"v":4},{"r":97,"c":13,"v":3},{"r":97,"c":14,"v":1},{"r":97,"c":15,"v":6},
{"r":98,"c":0,"v":1},{"r":98,"c":1,"v":2},{"r":98,"c":2,"v":1},{"r":98,"c":3,"v":1},{"r":98,"c":4,"v":1},{"r":98,"c":5,"v":1},{"r":98,"c":6,"v":1},{"r":98,"c":7,"v":1},{"r":98,"c":8,"v":1},{"r":98,"c":9,"v":1},{"r":98,"c":10,"v":1},{"r":98,"c":11,"v":1},{"r":98,"c":12,"v":2},{"r":98,"c":13,"v":1},{"r":98,"c":14,"v":1},{"r":98,"c":15,"v":6},
{"r":99,"c":0,"v":2},{"r":99,"c":1,"v":1},{"r":99,"c":2,"v":1},{"r":99,"c":3,"v":1},{"r":99,"c":4,"v":1},{"r":99,"c":5,"v":1},{"r":99,"c":6,"v":1},{"r":99,"c":7,"v":1},{"r":99,"c":8,"v":1},{"r":99,"c":9,"v":1},{"r":99,"c":10,"v":1},{"r":99,"c":11,"v":1},{"r":99,"c":12,"v":4},{"r":99,"c":13,"v":2},{"r":99,"c":14,"v":1},{"r":99,"c":15,"v":1},
{"r":100,"c":0,"v":2},{"r":100,"c":1,"v":2},{"r":100,"c":2,"v":1},{"r":100,"c":3,"v":1},{"r":100,"c":4,"v":2},{"r":100,"c":5,"v":1},{"r":100,"c":6,"v":1},{"r":100,"c":7,"v":1},{"r":100,"c":8,"v":1},{"r":100,"c":9,"v":1},{"r":100,"c":10,"v":1},{"r":100,"c":11,"v":1},{"r":100,"c":12,"v":1},{"r":100,"c":13,"v":1},{"r":100,"c":14,"v":1},{"r":100,"c":15,"v":1},
{"r":101,"c":0,"v":1},{"r":101,"c":1,"v":1},{"r":101,"c":2,"v":1},{"r":101,"c":3,"v":1},{"r":101,"c":4,"v":1},{"r":101,"c":5,"v":1},{"r":101,"c":6,"v":1},{"r":101,"c":7,"v":1},{"r":101,"c":8,"v":1},{"r":101,"c":9,"v":1},{"r":101,"c":10,"v":1},{"r":101,"c":11,"v":1},{"r":101,"c":12,"v":1},{"r":101,"c":13,"v":1},{"r":101,"c":14,"v":1},{"r":101,"c":15,"v":1},
{"r":102,"c":0,"v":1},{"r":102,"c":1,"v":1},{"r":102,"c":2,"v":1},{"r":102,"c":3,"v":1},{"r":102,"c":4,"v":7},{"r":102,"c":5,"v":1},{"r":102,"c":6,"v":4},{"r":102,"c":7,"v":1},{"r":102,"c":8,"v":1},{"r":102,"c":9,"v":1},{"r":102,"c":10,"v":1},{"r":102,"c":11,"v":1},{"r":102,"c":12,"v":1},{"r":102,"c":13,"v":1},{"r":102,"c":14,"v":1},{"r":102,"c":15,"v":1},
{"r":103,"c":0,"v":2},{"r":103,"c":1,"v":1},{"r":103,"c":2,"v":1},{"r":103,"c":3,"v":1},{"r":103,"c":4,"v":1},{"r":103,"c":5,"v":1},{"r":103,"c":6,"v":1},{"r":103,"c":7,"v":1},{"r":103,"c":8,"v":1},{"r":103,"c":9,"v":1},{"r":103,"c":10,"v":1},{"r":103,"c":11,"v":1},{"r":103,"c":12,"v":1},{"r":103,"c":13,"v":1},{"r":103,"c":14,"v":1},{"r":103,"c":15,"v":1},
{"r":104,"c":0,"v":1},{"r":104,"c":1,"v":2},{"r":104,"c":2,"v":1},{"r":104,"c":3,"v":1},{"r":104,"c":4,"v":4},{"r":104,"c":5,"v":1},{"r":104,"c":6,"v":1},{"r":104,"c":7,"v":1},{"r":104,"c":8,"v":1},{"r":104,"c":9,"v":1},{"r":104,"c":10,"v":1},{"r":104,"c":11,"v":1},{"r":104,"c":12,"v":1},{"r":104,"c":13,"v":1},{"r":104,"c":14,"v":1},{"r":104,"c":15,"v":1},
{"r":105,"c":0,"v":1},{"r":105,"c":1,"v":2},{"r":105,"c":2,"v":1},{"r":105,"c":3,"v":1},{"r":105,"c":4,"v":2},{"r":105,"c":5,"v":1},{"r":105,"c":6,"v":1},{"r":105,"c":7,"v":1},{"r":105,"c":8,"v":1},{"r":105,"c":9,"v":1},{"r":105,"c":10,"v":1},{"r":105,"c":11,"v":1},{"r":105,"c":12,"v":1},{"r":105,"c":13,"v":1},{"r":105,"c":14,"v":1},{"r":105,"c":15,"v":1},
{"r":106,"c":0,"v":1},{"r":106,"c":1,"v":1},{"r":106,"c":2,"v":1},{"r":106,"c":3,"v":1},{"r":106,"c":4,"v":1},{"r":106,"c":5,"v":1},{"r":106,"c":6,"v":1},{"r":106,"c":7,"v":1},{"r":106,"c":8,"v":1},{"r":106,"c":9,"v":1},{"r":106,"c":10,"v":1},{"r":106,"c":11,"v":1},{"r":106,"c":12,"v":1},{"r":106,"c":13,"v":1},{"r":106,"c":14,"v":1},{"r":106,"c":15,"v":1},
{"r":107,"c":0,"v":1},{"r":107,"c":1,"v":2},{"r":107,"c":2,"v":1},{"r":107,"c":3,"v":1},{"r":107,"c":4,"v":1},{"r":107,"c":5,"v":1},{"r":107,"c":6,"v":1},{"r":107,"c":7,"v":1},{"r":107,"c":8,"v":1},{"r":107,"c":9,"v":1},{"r":107,"c":10,"v":1},{"r":107,"c":11,"v":1},{"r":107,"c":12,"v":1},{"r":107,"c":13,"v":1},{"r":107,"c":14,"v":1},{"r":107,"c":15,"v":1},
{"r":108,"c":0,"v":1},{"r":108,"c":1,"v":3},{"r":108,"c":2,"v":1},{"r":108,"c":3,"v":1},{"r":108,"c":4,"v":1},{"r":108,"c":5,"v":1},{"r":108,"c":6,"v":1},{"r":108,"c":7,"v":1},{"r":108,"c":8,"v":1},{"r":108,"c":9,"v":1},{"r":108,"c":10,"v":1},{"r":108,"c":11,"v":1},{"r":108,"c":12,"v":1},{"r":108,"c":13,"v":1},{"r":108,"c":14,"v":1},{"r":108,"c":15,"v":1},
{"r":109,"c":0,"v":1},{"r":109,"c":1,"v":4},{"r":109,"c":2,"v":1},{"r":109,"c":3,"v":1},{"r":109,"c":4,"v":4},{"r":109,"c":5,"v":1},{"r":109,"c":6,"v":1},{"r":109,"c":7,"v":1},{"r":109,"c":8,"v":1},{"r":109,"c":9,"v":1},{"r":109,"c":10,"v":1},{"r":109,"c":11,"v":1},{"r":109,"c":12,"v":1},{"r":109,"c":13,"v":1},{"r":109,"c":14,"v":1},{"r":109,"c":15,"v":1},
{"r":110,"c":0,"v":1},{"r":110,"c":1,"v":4},{"r":110,"c":2,"v":1},{"r":110,"c":3,"v":1},{"r":110,"c":4,"v":5},{"r":110,"c":5,"v":1},{"r":110,"c":6,"v":1},{"r":110,"c":7,"v":1},{"r":110,"c":8,"v":1},{"r":110,"c":9,"v":1},{"r":110,"c":10,"v":1},{"r":110,"c":11,"v":1},{"r":110,"c":12,"v":1},{"r":110,"c":13,"v":1},{"r":110,"c":14,"v":1},{"r":110,"c":15,"v":1},
{"r":111,"c":0,"v":1},{"r":111,"c":1,"v":3},{"r":111,"c":2,"v":1},{"r":111,"c":3,"v":1},{"r":111,"c":4,"v":6},{"r":111,"c":5,"v":1},{"r":111,"c":6,"v":1},{"r":111,"c":7,"v":1},{"r":111,"c":8,"v":1},{"r":111,"c":9,"v":1},{"r":111,"c":10,"v":1},{"r":111,"c":11,"v":1},{"r":111,"c":12,"v":1},{"r":111,"c":13,"v":1},{"r":111,"c":14,"v":1},{"r":111,"c":15,"v":1},
{"r":112,"c":0,"v":1},{"r":112,"c":1,"v":2},{"r":112,"c":2,"v":1},{"r":112,"c":3,"v":1},{"r":112,"c":4,"v":1},{"r":112,"c":5,"v":1},{"r":112,"c":6,"v":1},{"r":112,"c":7,"v":1},{"r":112,"c":8,"v":1},{"r":112,"c":9,"v":1},{"r":112,"c":10,"v":1},{"r":112,"c":11,"v":1},{"r":112,"c":12,"v":1},{"r":112,"c":13,"v":1},{"r":112,"c":14,"v":1},{"r":112,"c":15,"v":1},
{"r":113,"c":0,"v":2},{"r":113,"c":1,"v":3},{"r":113,"c":2,"v":1},{"r":113,"c":3,"v":1},{"r":113,"c":4,"v":1},{"r":113,"c":5,"v":1},{"r":113,"c":6,"v":1},{"r":113,"c":7,"v":1},{"r":113,"c":8,"v":1},{"r":113,"c":9,"v":1},{"r":113,"c":10,"v":1},{"r":113,"c":11,"v":1},{"r":113,"c":12,"v":1},{"r":113,"c":13,"v":1},{"r":113,"c":14,"v":1},{"r":113,"c":15,"v":1},
{"r":114,"c":0,"v":1},{"r":114,"c":1,"v":3},{"r":114,"c":2,"v":1},{"r":114,"c":3,"v":33},{"r":114,"c":4,"v":1},{"r":114,"c":5,"v":1},{"r":114,"c":6,"v":1},{"r":114,"c":7,"v":1},{"r":114,"c":8,"v":1},{"r":114,"c":9,"v":1},{"r":114,"c":10,"v":1},{"r":114,"c":11,"v":1},{"r":114,"c":12,"v":1},{"r":114,"c":13,"v":1},{"r":114,"c":14,"v":1},{"r":114,"c":15,"v":1},
{"r":115,"c":0,"v":1},{"r":115,"c":1,"v":1},{"r":115,"c":2,"v":1},{"r":115,"c":3,"v":1},{"r":115,"c":4,"v":19},{"r":115,"c":5,"v":1},{"r":115,"c":6,"v":1},{"r":115,"c":7,"v":1},{"r":115,"c":8,"v":1},{"r":115,"c":9,"v":1},{"r":115,"c":10,"v":1},{"r":115,"c":11,"v":1},{"r":115,"c":12,"v":1},{"r":115,"c":13,"v":1},{"r":115,"c":14,"v":1},{"r":115,"c":15,"v":1},
{"r":116,"c":0,"v":1},{"r":116,"c":1,"v":1},{"r":116,"c":2,"v":1},{"r":116,"c":3,"v":1},{"r":116,"c":4,"v":2},{"r":116,"c":5,"v":1},{"r":116,"c":6,"v":1},{"r":116,"c":7,"v":1},{"r":116,"c":8,"v":1},{"r":116,"c":9,"v":1},{"r":116,"c":10,"v":1},{"r":116,"c":11,"v":1},{"r":116,"c":12,"v":1},{"r":116,"c":13,"v":1},{"r":116,"c":14,"v":1},{"r":116,"c":15,"v":1},
{"r":117,"c":0,"v":1},{"r":117,"c":1,"v":1},{"r":117,"c":2,"v":1},{"r":117,"c":3,"v":1},{"r":117,"c":4,"v":19},{"r":117,"c":5,"v":1},{"r":117,"c":6,"v":1},{"r":117,"c":7,"v":1},{"r":117,"c":8,"v":1},{"r":117,"c":9,"v":1},{"r":117,"c":10,"v":1},{"r":117,"c":11,"v":1},{"r":117,"c":12,"v":1},{"r":117,"c":13,"v":1},{"r":117,"c":14,"v":1},{"r":117,"c":15,"v":1},
{"r":118,"c":0,"v":1},{"r":118,"c":1,"v":1},{"r":118,"c":2,"v":1},{"r":118,"c":3,"v":1},{"r":118,"c":4,"v":1},{"r":118,"c":5,"v":1},{"r":118,"c":6,"v":1},{"r":118,"c":7,"v":1},{"r":118,"c":8,"v":1},{"r":118,"c":9,"v":1},{"r":118,"c":10,"v":1},{"r":118,"c":11,"v":1},{"r":118,"c":12,"v":1},{"r":118,"c":13,"v":1},{"r":118,"c":14,"v":1},{"r":118,"c":15,"v":1},
{"r":119,"c":0,"v":1},{"r":119,"c":1,"v":1},{"r":119,"c":2,"v":1},{"r":119,"c":3,"v":1},{"r":119,"c":4,"v":1},{"r":119,"c":5,"v":1},{"r":119,"c":6,"v":1},{"r":119,"c":7,"v":1},{"r":119,"c":8,"v":1},{"r":119,"c":9,"v":1},{"r":119,"c":10,"v":1},{"r":119,"c":11,"v":1},{"r":119,"c":12,"v":1},{"r":119,"c":13,"v":1},{"r":119,"c":14,"v":1},{"r":119,"c":15,"v":1},
{"r":120,"c":0,"v":1},{"r":120,"c":1,"v":1},{"r":120,"c":2,"v":1},{"r":120,"c":3,"v":1},{"r":120,"c":4,"v":1},{"r":120,"c":5,"v":1},{"r":120,"c":6,"v":1},{"r":120,"c":7,"v":1},{"r":120,"c":8,"v":1},{"r":120,"c":9,"v":1},{"r":120,"c":10,"v":1},{"r":120,"c":11,"v":1},{"r":120,"c":12,"v":1},{"r":120,"c":13,"v":1},{"r":120,"c":14,"v":1},{"r":120,"c":15,"v":1},
{"r":121,"c":0,"v":9},{"r":121,"c":1,"v":1},{"r":121,"c":2,"v":1},{"r":121,"c":3,"v":1},{"r":121,"c":4,"v":1},{"r":121,"c":5,"v":1},{"r":121,"c":6,"v":1},{"r":121,"c":7,"v":1},{"r":121,"c":8,"v":1},{"r":121,"c":9,"v":1},{"r":121,"c":10,"v":1},{"r":121,"c":11,"v":1},{"r":121,"c":12,"v":1},{"r":121,"c":13,"v":1},{"r":121,"c":14,"v":1},{"r":121,"c":15,"v":1},
{"r":122,"c":0,"v":3},{"r":122,"c":1,"v":1},{"r":122,"c":2,"v":1},{"r":122,"c":3,"v":1},{"r":122,"c":4,"v":1},{"r":122,"c":5,"v":1},{"r":122,"c":6,"v":1},{"r":122,"c":7,"v":1},{"r":122,"c":8,"v":1},{"r":122,"c":9,"v":1},{"r":122,"c":10,"v":1},{"r":122,"c":11,"v":1},{"r":122,"c":12,"v":1},{"r":122,"c":13,"v":1},{"r":122,"c":14,"v":1},{"r":122,"c":15,"v":1},
{"r":123,"c":0,"v":1},{"r":123,"c":1,"v":1},{"r":123,"c":2,"v":1},{"r":123,"c":3,"v":1},{"r":123,"c":4,"v":1},{"r":123,"c":5,"v":1},{"r":123,"c":6,"v":1},{"r":123,"c":7,"v":1},{"r":123,"c":8,"v":1},{"r":123,"c":9,"v":1},{"r":123,"c":10,"v":1},{"r":123,"c":11,"v":1},{"r":123,"c":12,"v":1},{"r":123,"c":13,"v":1},{"r":123,"c":14,"v":1},{"r":123,"c":15,"v":1},
{"r":124,"c":0,"v":1},{"r":124,"c":1,"v":2},{"r":124,"c":2,"v":1},{"r":124,"c":3,"v":1},{"r":124,"c":4,"v":1},{"r":124,"c":5,"v":1},{"r":124,"c":6,"v":1},{"r":124,"c":7,"v":1},{"r":124,"c":8,"v":1},{"r":124,"c":9,"v":1},{"r":124,"c":10,"v":1},{"r":124,"c":11,"v":1},{"r":124,"c":12,"v":1},{"r":124,"c":13,"v":1},{"r":124,"c":14,"v":1},{"r":124,"c":15,"v":2},
{"r":125,"c":0,"v":1},{"r":125,"c":1,"v":1},{"r":125,"c":2,"v":1},{"r":125,"c":3,"v":1},{"r":125,"c":4,"v":1},{"r":125,"c":5,"v":1},{"r":125,"c":6,"v":1},{"r":125,"c":7,"v":1},{"r":125,"c":8,"v":1},{"r":125,"c":9,"v":1},{"r":125,"c":10,"v":1},{"r":125,"c":11,"v":1},{"r":125,"c":12,"v":1},{"r":125,"c":13,"v":1},{"r":125,"c":14,"v":1},{"r":125,"c":15,"v":1},
{"r":126,"c":0,"v":1},{"r":126,"c":1,"v":1},{"r":126,"c":2,"v":1},{"r":126,"c":3,"v":1},{"r":126,"c":4,"v":1},{"r":126,"c":5,"v":1},{"r":126,"c":6,"v":1},{"r":126,"c":7,"v":1},{"r":126,"c":8,"v":1},{"r":126,"c":9,"v":1},{"r":126,"c":10,"v":1},{"r":126,"c":11,"v":1},{"r":126,"c":12,"v":1},{"r":126,"c":13,"v":1},{"r":126,"c":14,"v":1},{"r":126,"c":15,"v":1},
{"r":127,"c":0,"v":1},{"r":127,"c":1,"v":1},{"r":127,"c":2,"v":1},{"r":127,"c":3,"v":1},{"r":127,"c":4,"v":1},{"r":127,"c":5,"v":1},{"r":127,"c":6,"v":1},{"r":127,"c":7,"v":1},{"r":127,"c":8,"v":1},{"r":127,"c":9,"v":1},{"r":127,"c":10,"v":1},{"r":127,"c":11,"v":1},{"r":127,"c":12,"v":1},{"r":127,"c":13,"v":1},{"r":127,"c":14,"v":1},{"r":127,"c":15,"v":1},
{"r":128,"c":0,"v":1},{"r":128,"c":1,"v":1},{"r":128,"c":2,"v":1},{"r":128,"c":3,"v":1},{"r":128,"c":4,"v":1},{"r":128,"c":5,"v":1},{"r":128,"c":6,"v":1},{"r":128,"c":7,"v":1},{"r":128,"c":8,"v":1},{"r":128,"c":9,"v":1},{"r":128,"c":10,"v":1},{"r":128,"c":11,"v":1},{"r":128,"c":12,"v":1},{"r":128,"c":13,"v":1},{"r":128,"c":14,"v":1},{"r":128,"c":15,"v":1},
{"r":129,"c":0,"v":1},{"r":129,"c":1,"v":1},{"r":129,"c":2,"v":1},{"r":129,"c":3,"v":1},{"r":129,"c":4,"v":1},{"r":129,"c":5,"v":1},{"r":129,"c":6,"v":1},{"r":129,"c":7,"v":1},{"r":129,"c":8,"v":1},{"r":129,"c":9,"v":1},{"r":129,"c":10,"v":1},{"r":129,"c":11,"v":1},{"r":129,"c":12,"v":1},{"r":129,"c":13,"v":1},{"r":129,"c":14,"v":1},{"r":129,"c":15,"v":1},
{"r":130,"c":0,"v":1},{"r":130,"c":1,"v":1},{"r":130,"c":2,"v":1},{"r":130,"c":3,"v":1},{"r":130,"c":4,"v":1},{"r":130,"c":5,"v":1},{"r":130,"c":6,"v":1},{"r":130,"c":7,"v":1},{"r":130,"c":8,"v":1},{"r":130,"c":9,"v":1},{"r":130,"c":10,"v":1},{"r":130,"c":11,"v":1},{"r":130,"c":12,"v":1},{"r":130,"c":13,"v":1},{"r":130,"c":14,"v":1},{"r":130,"c":15,"v":1},
{"r":131,"c":0,"v":1},{"r":131,"c":1,"v":1},{"r":131,"c":2,"v":1},{"r":131,"c":3,"v":1},{"r":131,"c":4,"v":1},{"r":131,"c":5,"v":1},{"r":131,"c":6,"v":1},{"r":131,"c":7,"v":1},{"r":131,"c":8,"v":1},{"r":131,"c":9,"v":1},{"r":131,"c":10,"v":1},{"r":131,"c":11,"v":1},{"r":131,"c":12,"v":1},{"r":131,"c":13,"v":1},{"r":131,"c":14,"v":1},{"r":131,"c":15,"v":1},
{"r":132,"c":0,"v":1},{"r":132,"c":1,"v":1},{"r":132,"c":2,"v":1},{"r":132,"c":3,"v":1},{"r":132,"c":4,"v":1},{"r":132,"c":5,"v":1},{"r":132,"c":6,"v":1},{"r":132,"c":7,"v":1},{"r":132,"c":8,"v":1},{"r":132,"c":9,"v":1},{"r":132,"c":10,"v":1},{"r":132,"c":11,"v":1},{"r":132,"c":12,"v":1},{"r":132,"c":13,"v":1},{"r":132,"c":14,"v":1},{"r":132,"c":15,"v":1}
]},
"data": {"name": "cells"},
"transform": [
{"lookup": "r", "from": {"data": {"name": "rows"}, "key": "r", "fields": ["k"]}},
{"lookup": "c", "from": {"data": {"name": "cols"}, "key": "c", "fields": ["ck"]}}
],
"mark": {"type": "rect", "stroke": "white", "strokeWidth": 2.2},
"encoding": {
"x": {"field": "ck", "type": "ordinal", "scale": {"paddingInner": 0, "paddingOuter": 0}, "axis": {"orient": "top", "title": null, "labelAngle": -90, "labelPadding": 25, "labelExpr": "substring(datum.value, 2)"}},
"y": {"field": "k", "type": "ordinal", "scale": {"paddingInner": 0, "paddingOuter": 0}, "axis": {"title": null, "labelPadding": 25.6, "labelExpr": "substring(datum.value, 3)"}},
"color": {"field": "v", "type": "quantitative", "legend": null, "scale": {"domain": [0,12.5,25,37.5,50,62.5,75,87.5,100], "range": ["#f7fbff","#deebf7","#c6dbef","#9ecae1","#6baed6","#4292c6","#2171b5","#08519c","#08306b"], "interpolate": "rgb"}}
}
}
